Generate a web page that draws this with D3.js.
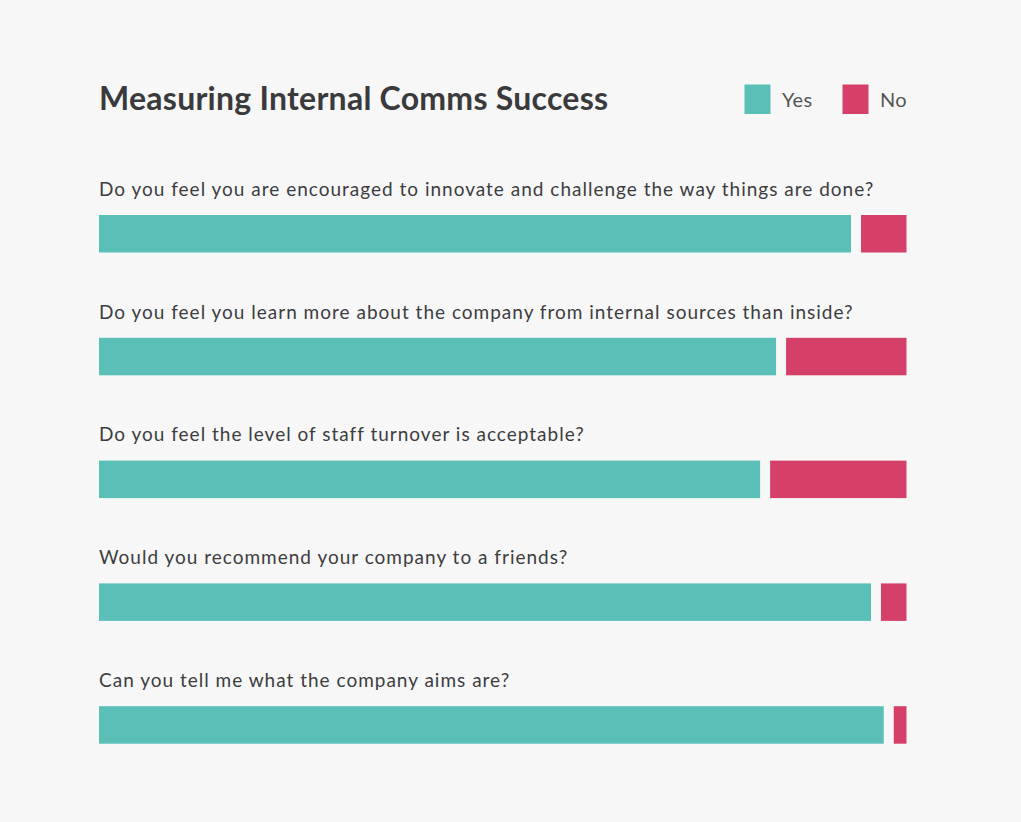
<!DOCTYPE html>
<html>
<head>
<meta charset="utf-8">
<script src="https://cdn.jsdelivr.net/npm/d3@7"></script>
<style>
  html, body { margin: 0; padding: 0; background: #f7f7f7; }
  svg { display: block; }
</style>
</head>
<body>
<div id="chart"></div>
<script>
const questions = [
  "Do you feel you are encouraged to innovate and challenge the way things are done?",
  "Do you feel you learn more about the company from internal sources than inside?",
  "Do you feel the level of staff turnover is acceptable?",
  "Would you recommend your company to a friends?",
  "Can you tell me what the company aims are?"
];
const yesValues = [94.3, 84.9, 82.9, 96.8, 98.4];
const noValues = [5.7, 15.1, 17.1, 3.2, 1.6];
const seriesNames = ["Yes", "No"];
const colors = ["#59bfb7", "#d54068"];

const W = 1021, H = 822;
const left = 99, gap = 10, barW = 797.5, barH = 37.5;

const svg = d3.select("#chart").append("svg").attr("width", W).attr("height", H);
svg.append("rect").attr("width", W).attr("height", H).attr("fill", "#f7f7f7");

const x = d3.scaleLinear().domain([0, 100]).range([0, barW]);
const y = d3.scaleBand().domain(questions).range([215, 215 + 122.8 * 5]).paddingInner(0).paddingOuter(0);

// Title
svg.append("text")
  .attr("x", 99).attr("y", 110)
  .attr("font-family", "Lato, sans-serif").attr("font-weight", 700)
  .attr("font-size", 32).attr("letter-spacing", 0.25).attr("fill", "#3a3a3c")
  .text("Measuring Internal Comms Success");

// Legend
const legendX = [744.5, 842.5];
seriesNames.forEach((s, i) => {
  const g = svg.append("g").attr("transform", `translate(${legendX[i]},84.5)`);
  g.append("rect").attr("width", 26).attr("height", 29.5).attr("fill", colors[i]);
  g.append("text").attr("x", 37.5).attr("y", 22.5)
    .attr("font-family", "Lato, sans-serif").attr("font-size", 20)
    .attr("letter-spacing", 0.3)
    .attr("fill", "#555555").text(s);
});

const rows = svg.selectAll("g.row").data(questions).join("g").attr("class", "row")
  .attr("transform", d => `translate(0,${y(d)})`);

rows.append("text")
  .attr("x", 99).attr("y", -19.3)
  .attr("font-family", "Lato, sans-serif").attr("font-size", 19)
  .attr("letter-spacing", 1.0)
  .attr("fill", "#3d3d3f")
  .text(d => d);

rows.append("rect")
  .attr("x", left).attr("y", 0)
  .attr("width", (d, i) => x(yesValues[i]))
  .attr("height", barH).attr("fill", colors[0]);

rows.append("rect")
  .attr("x", (d, i) => left + x(yesValues[i]) + gap).attr("y", 0)
  .attr("width", (d, i) => x(noValues[i]))
  .attr("height", barH).attr("fill", colors[1]);
</script>
</body>
</html>
